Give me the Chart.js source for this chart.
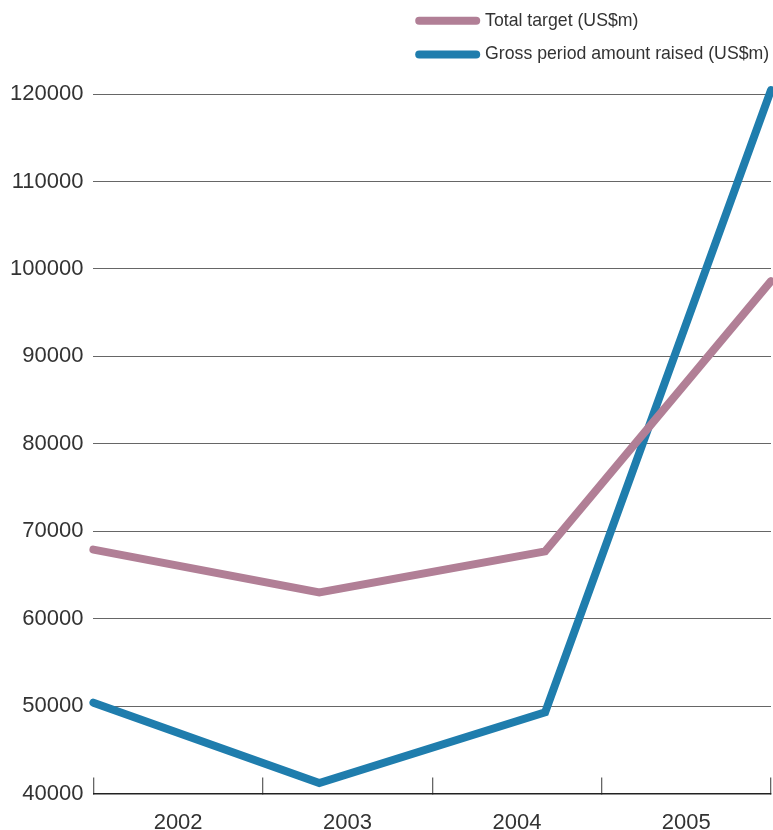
<!DOCTYPE html>
<html lang="en">
<head>
    <meta charset="UTF-8">
    <title>Target vs amount raised</title>
    <script src="https://cdn.jsdelivr.net/npm/chart.js"></script>
    <style>
        body { margin: 0; background: #fff; }
        #wrap { width: 773px; height: 830px; }
    </style>
</head>
<body>
<div id="wrap">
    <canvas id="raisedChart"></canvas>
</div>

<script>
    const years = ['2002', '2003', '2004', '2005'];
    const totalTarget = [67900, 63000, 67700, 98600];
    const grossRaised = [50400, 41200, 49300, 120450];
    const yTickValues = [40000, 50000, 60000, 70000, 80000, 90000, 100000, 110000, 120000];

    const pink = '#b17f96';
    const blue = '#1f7dad';
    const textColor = '#333';
    const fontFamily = '"Liberation Sans", Arial, sans-serif';

    // points sit on the band edges, year labels sit in the bands -> separate hidden axis for the lines
    const toPoints = arr => arr.map((v, i) => ({ x: i, y: v }));

    const ctx = document.getElementById('raisedChart').getContext('2d');
    const chart = new Chart(ctx, {
        type: 'line',
        data: {
            datasets: [
                {
                    label: 'Total target (US$m)',
                    data: toPoints(totalTarget),
                    xAxisID: 'xd',
                    borderColor: pink,
                    backgroundColor: pink,
                    borderWidth: 8,
                    borderCapStyle: 'round',
                    borderJoinStyle: 'miter',
                    pointRadius: 0,
                    tension: 0,
                    clip: false
                },
                {
                    label: 'Gross period amount raised (US$m)',
                    data: toPoints(grossRaised),
                    xAxisID: 'xd',
                    borderColor: blue,
                    backgroundColor: blue,
                    borderWidth: 8,
                    borderCapStyle: 'round',
                    borderJoinStyle: 'miter',
                    pointRadius: 0,
                    tension: 0,
                    clip: false
                }
            ]
        },
        options: {
            responsive: true,
            maintainAspectRatio: false,
            animation: false,
            layout: {
                padding: { top: -4, right: 2, bottom: -38, left: 0 }
            },
            scales: {
                x: {
                    type: 'category',
                    labels: years,
                    offset: true,
                    border: { display: true, color: '#222', width: 1.5 },
                    grid: {
                        offset: true,
                        drawOnChartArea: false,
                        drawTicks: true,
                        tickLength: -16,
                        color: '#666',
                        lineWidth: 1.3
                    },
                    ticks: {
                        color: textColor,
                        padding: 32,
                        font: { family: fontFamily, size: 22 }
                    }
                },
                xd: {
                    type: 'linear',
                    display: false,
                    min: 0,
                    max: years.length - 1
                },
                y: {
                    type: 'linear',
                    min: yTickValues[0],
                    max: yTickValues[yTickValues.length - 1],
                    afterBuildTicks: scale => {
                        scale.ticks = yTickValues.map(v => ({ value: v }));
                    },
                    border: { display: false },
                    grid: {
                        color: '#666',
                        lineWidth: 1,
                        drawTicks: false
                    },
                    ticks: {
                        color: textColor,
                        padding: 10,
                        font: { family: fontFamily, size: 22 },
                        callback: v => String(v)
                    }
                }
            },
            plugins: {
                tooltip: { enabled: false },
                // empty title only reserves the space left of the legend
                title: {
                    display: true,
                    text: '',
                    position: 'top',
                    fullSize: false,
                    stack: 'head',
                    stackWeight: 0.8423,
                    font: { size: 10, lineHeight: 1 },
                    padding: { top: 0, bottom: 88 }
                },
                legend: {
                    display: true,
                    position: 'top',
                    align: 'start',
                    fullSize: false,
                    stack: 'head',
                    stackWeight: 1,
                    labels: {
                        usePointStyle: true,
                        pointStyle: 'line',
                        pointStyleWidth: 57,
                        padding: 16,
                        color: textColor,
                        font: { family: fontFamily, size: 17.7 },
                        generateLabels: c => c.data.datasets.map((ds, i) => ({
                            text: ds.label,
                            fillStyle: ds.borderColor,
                            strokeStyle: ds.borderColor,
                            lineWidth: 8,
                            lineCap: 'round',
                            pointStyle: 'line',
                            fontColor: textColor,
                            hidden: false,
                            datasetIndex: i
                        }))
                    }
                }
            }
        }
    });
</script>
</body>
</html>
